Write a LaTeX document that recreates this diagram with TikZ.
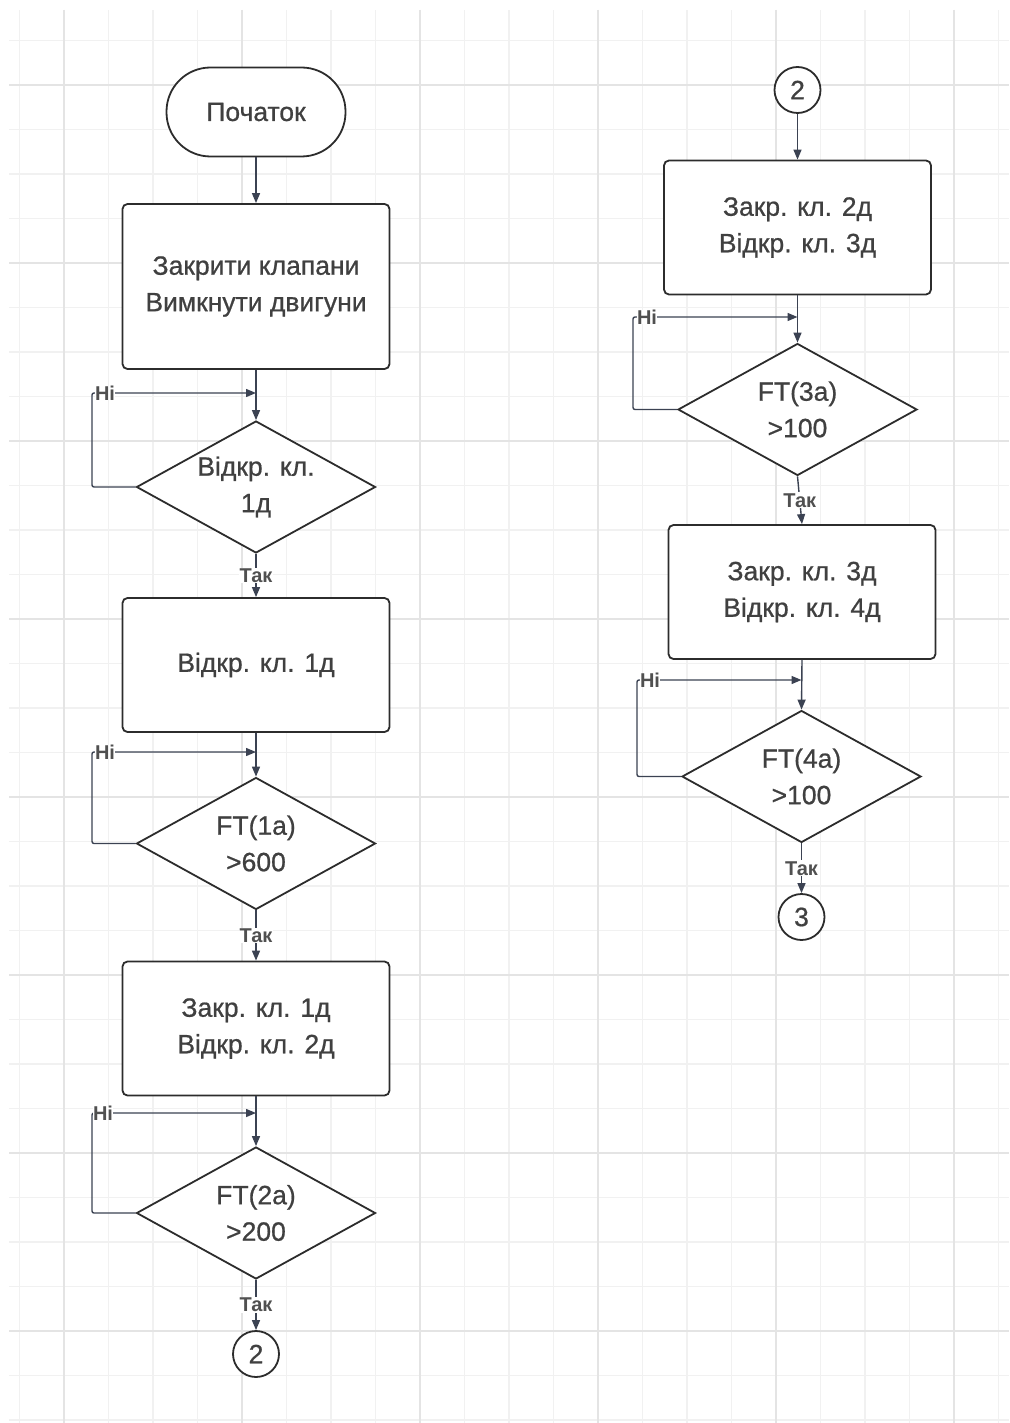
\documentclass[tikz,border=0pt]{standalone}
\usepackage{fontspec}
\setmainfont{Liberation Sans}[UprightFeatures={FakeBold=0.7}]
\usetikzlibrary{shapes.geometric,arrows.meta}
\definecolor{gridminor}{HTML}{F1F1F1}
\definecolor{gridmajor}{HTML}{E4E4E4}
\definecolor{edgec}{HTML}{3B4252}
\definecolor{txtc}{HTML}{404040}
\definecolor{lblc}{HTML}{505050}
\definecolor{bordc}{HTML}{2C2C2C}
\tikzset{
  base/.style={draw=bordc, line width=1.8pt, text=txtc, font=\fontsize{26.5}{36.5}\selectfont, align=center, fill=white},
  procbox/.style={base, rectangle, rounded corners=5pt, minimum width=267pt, minimum height=134pt, inner sep=0pt},
  termbox/.style={base, rectangle, rounded corners=44pt, minimum width=179pt, minimum height=89pt},
  decbox/.style={base, diamond, aspect=1.8, minimum width=239pt, minimum height=132pt, inner sep=0pt},
  conncirc/.style={base, circle, minimum size=46pt, inner sep=0pt},
  conn/.style={draw=edgec, line width=1.4pt, -{Triangle[length=10pt,width=8pt]}},
  lbl/.style={fill=white, text=lblc, font=\bfseries\fontsize{20}{21}\selectfont, inner sep=1pt},
}
\begin{document}
\begin{tikzpicture}[x=1pt,y=-1pt]
\useasboundingbox (0,0) rectangle (1009,1423);
% grid
\begin{scope}[line width=1.2pt]
\foreach \x in {19.5,64,...,1009} \draw[gridminor] (\x,10) -- (\x,1423);
\foreach \y in {40.5,85,...,1423} \draw[gridminor] (9,\y) -- (1009,\y);
\foreach \x in {64,242,...,1009} \draw[gridmajor] (\x,10) -- (\x,1423);
\foreach \y in {85,263,...,1423} \draw[gridmajor] (9,\y) -- (1009,\y);
\end{scope}

% left column
\node[termbox] (start) at (256,112) {Початок};
\node[procbox, minimum height=165pt] (b1) at (256,286.5) {Закрити клапани\\Вимкнути двигуни};
\node[decbox] (d1) at (256,487) {Відкр. кл.\\1д};
\node[procbox] (b2) at (256,665) {Відкр. кл. 1д};
\node[decbox] (d2) at (256,843.5) {FT(1a)\\>600};
\node[procbox] (b3) at (256,1028.5) {Закр. кл. 1д\\Відкр. кл. 2д};
\node[decbox] (d3) at (256,1213) {FT(2a)\\>200};
\node[conncirc] (c2a) at (256,1354) {2};

% right column
\node[conncirc] (c2b) at (797.5,90) {2};
\node[procbox] (b4) at (797.5,227.5) {Закр. кл. 2д\\Відкр. кл. 3д};
\node[decbox] (d4) at (797.5,409.5) {FT(3a)\\>100};
\node[procbox] (b5) at (802,592) {Закр. кл. 3д\\Відкр. кл. 4д};
\node[decbox] (d5) at (801.5,776.5) {FT(4a)\\>100};
\node[conncirc] (c3) at (801.5,917) {3};

% loop coordinates
\coordinate (k1) at (92,393);   \coordinate (j1) at (256,393);
\coordinate (k2) at (92,752);   \coordinate (j2) at (256,752);
\coordinate (k3) at (92,1113);  \coordinate (j3) at (256,1113);
\coordinate (k4) at (633,317);  \coordinate (j4) at (797.5,317);
\coordinate (k5) at (637,680);  \coordinate (j5) at (801.5,680);

% main flow
\draw[conn] (start.south) -- (b1.north);
\draw[conn] (b1.south) -- (d1.north);
\draw[conn] (d1.south) -- node[lbl]{Так} (b2.north);
\draw[conn] (b2.south) -- (d2.north);
\draw[conn] (d2.south) -- node[lbl]{Так} (b3.north);
\draw[conn] (b3.south) -- (d3.north);
\draw[conn] (d3.south) -- node[lbl]{Так} (c2a.north);

\draw[conn] (c2b.south) -- (b4.north);
\draw[conn] (b4.south) -- (d4.north);
\draw[conn] (d4.south) -- node[lbl]{Так} (b5.north);
\draw[conn] (b5.south) -- (d5.north);
\draw[conn] (d5.south) -- node[lbl]{Так} (c3.north);

% loops
\draw[conn, rounded corners=2pt] (d1.west) -| (k1) -- (j1);
\draw[conn, rounded corners=2pt] (d2.west) -| (k2) -- (j2);
\draw[conn, rounded corners=2pt] (d3.west) -| (k3) -- (j3);
\draw[conn, rounded corners=2pt] (d4.west) -| (k4) -- (j4);
\draw[conn, rounded corners=2pt] (d5.west) -| (k5) -- (j5);
\node[lbl, inner sep=0pt] (n1) at (105,393) {Ні};
\node[lbl, inner sep=0pt] (n2) at (105,752) {Ні};
\node[lbl, inner sep=0pt] (n3) at (103,1113) {Ні};
\node[lbl, inner sep=0pt] (n4) at (647,317) {Ні};
\node[lbl, inner sep=0pt] (n5) at (650,680) {Ні};
\end{tikzpicture}
\end{document}
